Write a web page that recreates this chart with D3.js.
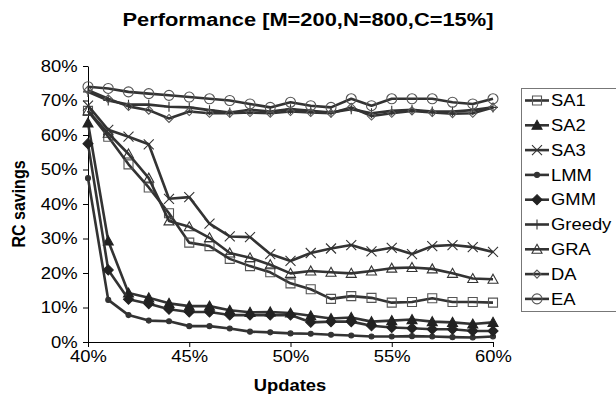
<!DOCTYPE html>
<html>
<head>
<meta charset="utf-8">
<script src="https://cdn.jsdelivr.net/npm/d3@7"></script>
<style>
body { margin: 0; background: #fff; }
text { font-family: "Liberation Sans", Arial, sans-serif; fill: #000; }
</style>
</head>
<body>
<div id="chart"></div>
<script>
// x values (percentage of updates)
let updates = [40, 41, 42, 43, 44, 45, 46, 47, 48, 49, 50, 51, 52, 53, 54, 55, 56, 57, 58, 59, 60];

// RC savings (%) per algorithm
let sa1 = [67.0, 59.5, 51.5, 44.8, 37.3, 28.8, 27.8, 24.1, 22.0, 20.2, 17.0, 15.3, 12.5, 13.3, 12.8, 11.4, 11.6, 12.7, 11.6, 11.6, 11.4];
let sa2 = [63.5, 29.3, 14.2, 12.8, 11.2, 10.4, 10.4, 9.2, 8.6, 8.7, 8.4, 7.6, 6.8, 7.1, 5.9, 6.2, 6.5, 5.9, 5.7, 5.2, 5.7];
let sa3 = [68.5, 61.5, 59.5, 57.3, 41.5, 42.0, 34.3, 30.6, 30.4, 25.5, 23.5, 25.8, 27.1, 28.1, 26.3, 27.3, 25.5, 27.8, 28.1, 27.5, 26.1];
let lmm = [47.5, 12.2, 7.8, 6.2, 6.0, 4.6, 4.6, 3.9, 3.0, 2.8, 2.5, 2.4, 2.1, 1.9, 1.6, 1.6, 1.7, 1.6, 1.4, 1.3, 1.6];
let gmm = [57.5, 20.9, 12.4, 11.1, 9.5, 8.7, 8.7, 7.8, 7.8, 7.8, 7.8, 5.7, 5.9, 5.9, 4.7, 4.2, 4.0, 3.7, 3.7, 3.2, 3.2];
let greedy = [72.5, 70.0, 68.8, 68.8, 68.2, 68.0, 67.2, 66.5, 67.3, 66.8, 67.5, 67.0, 66.5, 67.5, 66.3, 67.0, 67.3, 66.8, 66.8, 67.2, 68.0];
let gra = [67.0, 60.5, 54.5, 47.5, 35.1, 33.4, 30.2, 25.8, 24.4, 22.4, 19.9, 20.6, 20.2, 19.9, 20.6, 21.4, 21.6, 21.2, 19.9, 18.4, 18.2];
let da = [73.0, 70.5, 68.3, 67.2, 64.8, 66.8, 66.3, 66.3, 66.5, 66.3, 66.8, 66.5, 66.3, 68.0, 65.5, 66.3, 67.0, 66.5, 66.2, 66.3, 68.0];
let ea = [74.0, 73.5, 72.5, 72.0, 71.5, 71.0, 70.5, 70.0, 69.0, 68.0, 69.5, 68.5, 68.0, 70.5, 68.5, 70.5, 70.5, 70.5, 69.5, 69.0, 70.5];

let seriesNames = ['SA1', 'SA2', 'SA3', 'LMM', 'GMM', 'Greedy', 'GRA', 'DA', 'EA'];
let seriesValues = [sa1, sa2, sa3, lmm, gmm, greedy, gra, da, ea];

let xTicks = [40, 45, 50, 55, 60];
let yTicks = [0, 10, 20, 30, 40, 50, 60, 70, 80];

let width = 616;
let height = 407;
let lineColor = '#333';
// the original figure is a bit wider than tall, text included
let stretch = 'scale(1.15,1)';

// marker look per series
let markerStyle = {
    'SA1': {shape: 'square', size: 4.5, fill: 'none', stroke: '#555'},
    'SA2': {shape: 'triangle', size: 5, fill: '#222', stroke: '#222'},
    'SA3': {shape: 'times', size: 5, fill: 'none', stroke: '#333'},
    'LMM': {shape: 'dot', size: 2.5, fill: '#333', stroke: '#333'},
    'GMM': {shape: 'diamond', size: 5, fill: '#222', stroke: '#222'},
    'Greedy': {shape: 'plus', size: 5, fill: 'none', stroke: '#333'},
    'GRA': {shape: 'triangle', size: 5, fill: 'none', stroke: '#333'},
    'DA': {shape: 'diamond', size: 4, fill: 'none', stroke: '#555'},
    'EA': {shape: 'circle', size: 5, fill: 'none', stroke: '#555'},
};

function markerPath(shape, s) {
    let p = d3.path();
    if (shape === 'square') {
        p.rect(-s, -s, 2 * s, 2 * s);
    } else if (shape === 'triangle') {
        p.moveTo(0, -s);
        p.lineTo(s, s * 0.8);
        p.lineTo(-s, s * 0.8);
        p.closePath();
    } else if (shape === 'diamond') {
        p.moveTo(0, -s);
        p.lineTo(s, 0);
        p.lineTo(0, s);
        p.lineTo(-s, 0);
        p.closePath();
    } else if (shape === 'times') {
        p.moveTo(-s, -s); p.lineTo(s, s);
        p.moveTo(-s, s); p.lineTo(s, -s);
    } else if (shape === 'plus') {
        p.moveTo(-s, 0); p.lineTo(s, 0);
        p.moveTo(0, -s); p.lineTo(0, s);
    } else {
        p.arc(0, 0, s, 0, 2 * Math.PI);
    }
    return p.toString();
}

function drawMarker(g, name, cx, cy) {
    let st = markerStyle[name];
    g.append('path')
        .attr('d', markerPath(st.shape, st.size))
        .attr('transform', 'translate(' + cx + ',' + cy + ')')
        .attr('fill', st.fill)
        .attr('stroke', st.stroke)
        .attr('stroke-width', 1.1);
}

let svg = d3.select('#chart')
    .append('svg')
    .attr('width', width)
    .attr('height', height);

let x = d3.scaleLinear().domain([40, 60]).range([88, 493]);
let y = d3.scaleLinear().domain([0, 80]).range([342, 66]);

// axes
svg.append('g')
    .attr('class', 'y-axis')
    .attr('transform', 'translate(88,0)')
    .call(d3.axisLeft(y).tickValues(yTicks).tickSize(5).tickSizeOuter(0).tickPadding(4)
        .tickFormat(function(d) { return d + '%'; }));

svg.append('g')
    .attr('class', 'x-axis')
    .attr('transform', 'translate(0,342)')
    .call(d3.axisBottom(x).tickValues(xTicks).tickSize(5).tickSizeOuter(0).tickPadding(4)
        .tickFormat(function(d) { return d + '%'; }));

svg.selectAll('.domain, .tick line').attr('stroke', '#000');
svg.selectAll('.tick text')
    .attr('transform', stretch)
    .style('font-size', '16px')
    .style('font-family', '"Liberation Sans", Arial, sans-serif');

// series lines + markers
let line = d3.line()
    .x(function(d) { return x(d[0]); })
    .y(function(d) { return y(d[1]); });

let plot = svg.append('g').attr('class', 'plot');

seriesNames.forEach(function(name, k) {
    let pts = updates.map(function(u, i) { return [u, seriesValues[k][i]]; });
    let g = plot.append('g').attr('class', 'series ' + name);
    g.append('path')
        .attr('d', line(pts))
        .attr('fill', 'none')
        .attr('stroke', lineColor)
        .attr('stroke-width', 2.6)
        .attr('stroke-linejoin', 'round');
    pts.forEach(function(p) {
        drawMarker(g, name, x(p[0]), y(p[1]));
    });
});

// titles
svg.append('text')
    .attr('transform', 'translate(308,26) ' + stretch)
    .attr('text-anchor', 'middle')
    .style('font-size', '19px')
    .style('font-weight', 'bold')
    .text('Performance [M=200,N=800,C=15%]');

svg.append('text')
    .attr('transform', 'translate(290,391) ' + stretch)
    .attr('text-anchor', 'middle')
    .style('font-size', '16px')
    .style('font-weight', 'bold')
    .text('Updates');

svg.append('text')
    .attr('transform', 'translate(25,204) ' + stretch + ' rotate(-90)')
    .attr('text-anchor', 'middle')
    .style('font-size', '16px')
    .style('font-weight', 'bold')
    .text('RC savings');

// legend
let legend = svg.append('g').attr('class', 'legend');
legend.append('rect')
    .attr('x', 521.5)
    .attr('y', 88.5)
    .attr('width', 120)
    .attr('height', 223)
    .attr('fill', '#fff')
    .attr('stroke', '#777');

seriesNames.forEach(function(name, k) {
    let ly = 100.5 + k * 24.8;
    let row = legend.append('g');
    row.append('line')
        .attr('x1', 525).attr('x2', 549)
        .attr('y1', ly).attr('y2', ly)
        .attr('stroke', lineColor)
        .attr('stroke-width', 2.6);
    drawMarker(row, name, 537, ly);
    row.append('text')
        .attr('transform', 'translate(551,' + ly + ') ' + stretch)
        .attr('dy', '0.36em')
        .style('font-size', '16px')
        .text(name);
});
</script>
</body>
</html>
